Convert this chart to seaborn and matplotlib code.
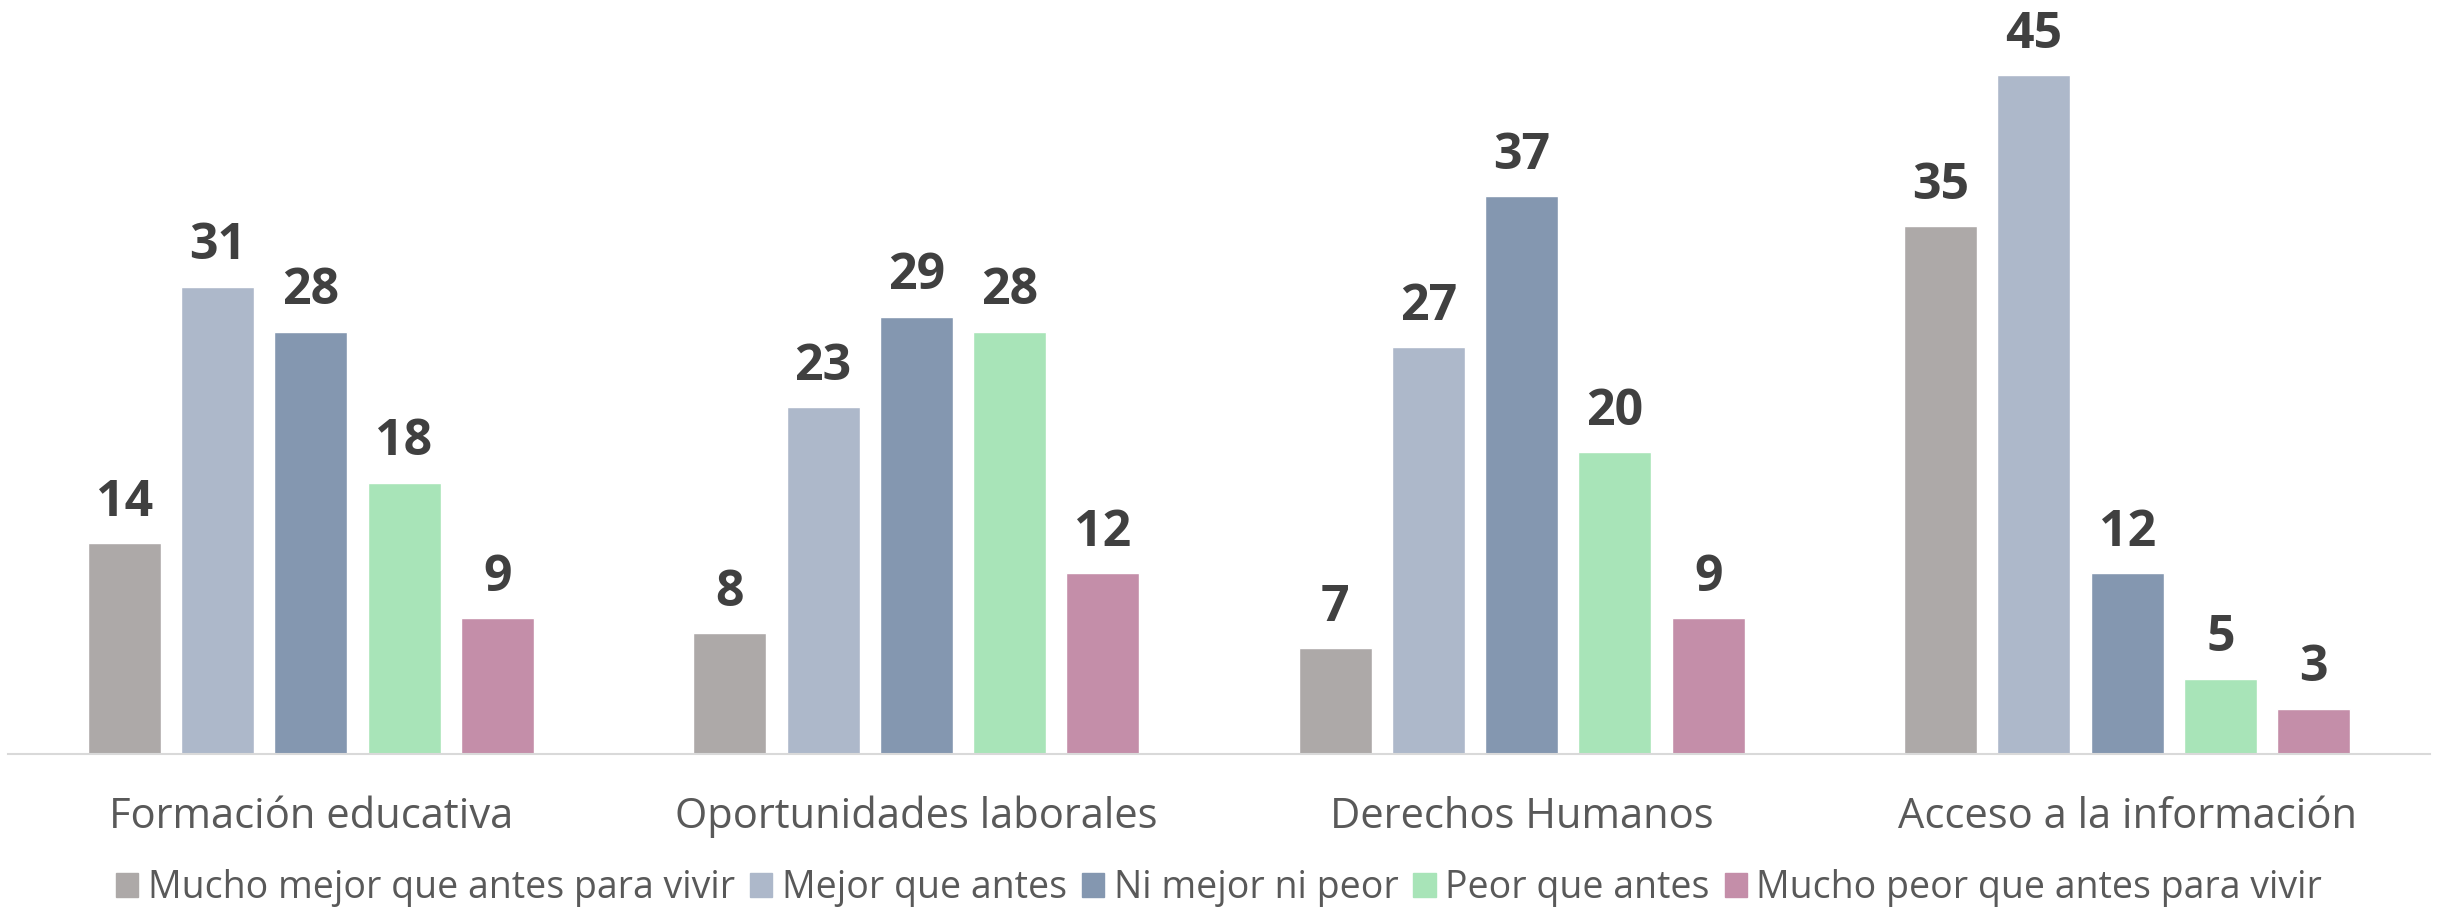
import pandas as pd
import numpy as np
import matplotlib.pyplot as plt
import seaborn as sns

sns.set_theme(style="white")
plt.rcParams['font.family'] = ['Open Sans', 'DejaVu Sans']

categorias = ['Formación educativa', 'Oportunidades laborales', 'Derechos Humanos', 'Acceso a la información']
respuestas = ['Mucho mejor que antes para vivir', 'Mejor que antes', 'Ni mejor ni peor',
              'Peor que antes', 'Mucho peor que antes para vivir']
mucho_mejor = [14, 8, 7, 35]
mejor = [31, 23, 27, 45]
igual = [28, 29, 37, 12]
peor = [18, 28, 20, 5]
mucho_peor = [9, 12, 9, 3]
colores = ['#ADA9A8', '#ADB8CA', '#8497B0', '#A8E4B8', '#C48EA9']

# long format for seaborn
rows = []
for resp, vals in zip(respuestas, [mucho_mejor, mejor, igual, peor, mucho_peor]):
    for cat, v in zip(categorias, vals):
        rows.append({'categoria': cat, 'respuesta': resp, 'valor': v})
df = pd.DataFrame(rows)

fig = plt.figure(figsize=(24.38, 9.08), dpi=100)
ax = fig.add_axes([0.0033, 0.1696, 0.9934, 0.8304])

sns.barplot(data=df, x='categoria', y='valor', hue='respuesta', order=categorias,
            hue_order=respuestas, palette=colores, width=0.77, gap=0.217,
            saturation=1, errorbar=None, legend=False, ax=ax)

for cont in ax.containers:
    ax.bar_label(cont, fmt='%d', padding=11, fontsize=36, fontweight='bold', color='#404040')

ax.set_ylim(0, 50)
ax.set_xlim(-0.5, 3.5)
ax.set_xlabel('')
ax.set_ylabel('')
ax.set_yticks([])
ax.tick_params(axis='x', length=0, pad=30, labelsize=30, labelcolor='#595959')
for s in ['top', 'right', 'left']:
    ax.spines[s].set_visible(False)
ax.spines['bottom'].set_color('#D9D9D9')
ax.spines['bottom'].set_linewidth(1.5)

handles = [plt.Rectangle((0, 0), 1, 1, color=c) for c in colores]
fig.legend(handles, respuestas, loc='lower center', bbox_to_anchor=(0.5, -0.036), ncol=5,
           frameon=False, fontsize=27, handlelength=0.6, handleheight=0.6,
           handletextpad=0.25, columnspacing=0.4, labelcolor='#595959')

fig.savefig('out.png', dpi=100)
